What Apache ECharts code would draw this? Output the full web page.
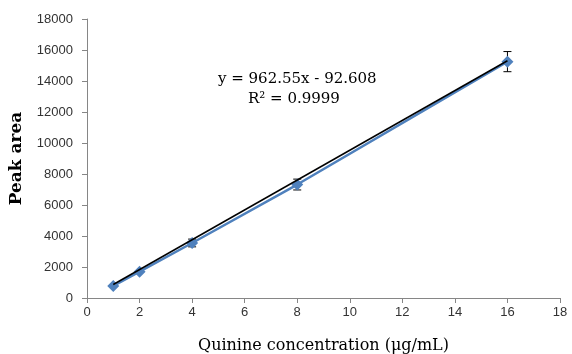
<!DOCTYPE html>
<html>
<head>
<meta charset="utf-8">
<script src="https://cdn.jsdelivr.net/npm/echarts@6/dist/echarts.min.js"></script>
<style>
  html, body { margin: 0; padding: 0; background: #fff; }
  #chart { width: 572px; height: 354px; }
</style>
</head>
<body>
<div id="chart"></div>
<script>
// concentration (ug/mL) and measured peak area
const conc = [1, 2, 4, 8, 16];
const peakArea = [780, 1700, 3550, 7320, 15250];
const errBar = [0, 0, 250, 350, 650];

// linear fit shown on the chart
const slope = 962.55;
const intercept = -92.608;
const fitRange = [1, 16];

const chart = echarts.init(document.getElementById('chart'));

const points = conc.map((x, i) => [x, peakArea[i]]);
const errData = conc.map((x, i) => [x, peakArea[i] - errBar[i], peakArea[i] + errBar[i]]);
const fitLine = fitRange.map(x => [x, slope * x + intercept]);

const axisGray = '#868686';
const tickFont = { fontFamily: 'Liberation Sans', fontSize: 13, color: '#333' };

chart.setOption({
  animation: false,
  grid: { left: 87, right: 12, top: 19, bottom: 56, outerBoundsMode: 'none' },
  xAxis: {
    type: 'value',
    min: 0, max: 18, interval: 2,
    name: 'Quinine concentration (μg/mL)',
    nameLocation: 'middle',
    nameGap: 40,
    nameTextStyle: { fontFamily: 'DejaVu Serif', fontSize: 16, color: '#000' },
    axisLine: { lineStyle: { color: axisGray } },
    axisTick: { show: true, length: 5, lineStyle: { color: axisGray } },
    axisLabel: Object.assign({ margin: 8 }, tickFont),
    splitLine: { show: false }
  },
  yAxis: {
    type: 'value',
    min: 0, max: 18000, interval: 2000,
    name: 'Peak area',
    nameLocation: 'middle',
    nameGap: 62,
    nameTextStyle: { fontFamily: 'DejaVu Serif', fontSize: 17, fontWeight: 'bold', color: '#000' },
    axisLine: { show: true, lineStyle: { color: axisGray } },
    axisTick: { show: true, length: 5, lineStyle: { color: axisGray } },
    axisLabel: Object.assign({ margin: 14, formatter: v => String(v) }, tickFont),
    splitLine: { show: false }
  },
  graphic: [
    {
      type: 'text', left: 218, top: 72,
      style: { text: 'y = 962.55x - 92.608', font: '15px "DejaVu Serif"', fill: '#000' }
    },
    {
      type: 'text', left: 248, top: 92,
      style: { text: 'R² = 0.9999', font: '15px "DejaVu Serif"', fill: '#000' }
    }
  ],
  series: [
    {
      type: 'custom',
      data: errData,
      z: 1,
      renderItem: function (params, api) {
        const x = api.value(0);
        const lo = api.coord([x, api.value(1)]);
        const hi = api.coord([x, api.value(2)]);
        const w = 4;
        const st = { stroke: '#000', lineWidth: 1 };
        return {
          type: 'group',
          children: [
            { type: 'line', shape: { x1: lo[0], y1: lo[1], x2: hi[0], y2: hi[1] }, style: st },
            { type: 'line', shape: { x1: lo[0] - w, y1: lo[1], x2: lo[0] + w, y2: lo[1] }, style: st },
            { type: 'line', shape: { x1: hi[0] - w, y1: hi[1], x2: hi[0] + w, y2: hi[1] }, style: st }
          ]
        };
      }
    },
    {
      type: 'line',
      data: points,
      symbol: 'diamond',
      symbolSize: 12,
      lineStyle: { color: '#4F81BD', width: 2.5 },
      itemStyle: { color: '#4F81BD' },
      z: 2
    },
    {
      type: 'line',
      data: fitLine,
      symbol: 'none',
      lineStyle: { color: '#000', width: 1.5 },
      z: 3
    }
  ]
});
</script>
</body>
</html>
